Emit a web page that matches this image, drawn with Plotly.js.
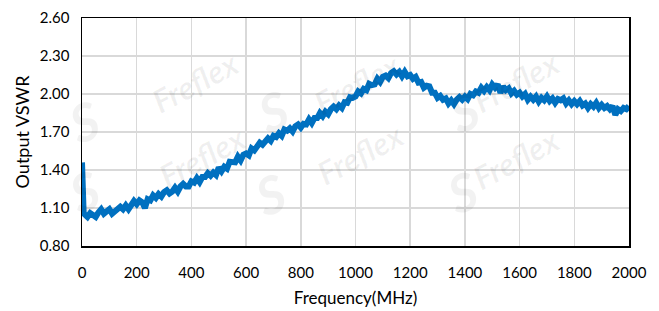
<!DOCTYPE html>
<html>
<head>
<meta charset="utf-8">
<script src="https://cdn.plot.ly/plotly-3.0.1.min.js"></script>
<style>
html,body{margin:0;padding:0;background:#fff;}
#chart{width:659px;height:311px;}
</style>
</head>
<body>
<div id="chart"></div>
<script>
// Frequency (MHz)
const freqMHz = [0, 2, 4, 6,
  10, 20, 30, 40, 50, 60, 70, 80, 90, 100,
  110, 120, 130, 140, 150, 160, 170, 180, 190, 200,
  210, 220, 230, 240, 250, 260, 270, 280, 290, 300,
  310, 320, 330, 340, 350, 360, 370, 380, 390, 400,
  410, 420, 430, 440, 450, 460, 470, 480, 490, 500,
  510, 520, 530, 540, 550, 560, 570, 580, 590, 600,
  610, 620, 630, 640, 650, 660, 670, 680, 690, 700,
  710, 720, 730, 740, 750, 760, 770, 780, 790, 800,
  810, 820, 830, 840, 850, 860, 870, 880, 890, 900,
  910, 920, 930, 940, 950, 960, 970, 980, 990, 1000,
  1010, 1020, 1030, 1040, 1050, 1060, 1070, 1080, 1090, 1100,
  1110, 1120, 1130, 1140, 1150, 1160, 1170, 1180, 1190, 1200,
  1210, 1220, 1230, 1240, 1250, 1260, 1270, 1280, 1290, 1300,
  1310, 1320, 1330, 1340, 1350, 1360, 1370, 1380, 1390, 1400,
  1410, 1420, 1430, 1440, 1450, 1460, 1470, 1480, 1490, 1500,
  1510, 1520, 1530, 1540, 1550, 1560, 1570, 1580, 1590, 1600,
  1610, 1620, 1630, 1640, 1650, 1660, 1670, 1680, 1690, 1700,
  1710, 1720, 1730, 1740, 1750, 1760, 1770, 1780, 1790, 1800,
  1810, 1820, 1830, 1840, 1850, 1860, 1870, 1880, 1890, 1900,
  1910, 1920, 1930, 1940, 1950, 1960, 1970, 1980, 1990, 2000];

// Output VSWR
const vswr = [1.46, 1.21, 1.17, 1.06,
  1.05, 1.03, 1.06, 1.045, 1.03, 1.065, 1.09, 1.055, 1.07, 1.09,
  1.055, 1.07, 1.09, 1.11, 1.09, 1.12, 1.09, 1.13, 1.155, 1.13,
  1.16, 1.145, 1.10, 1.17, 1.16, 1.20, 1.18, 1.21, 1.19, 1.225,
  1.24, 1.215, 1.23, 1.26, 1.23, 1.27, 1.29, 1.27, 1.27, 1.31,
  1.30, 1.335, 1.305, 1.345, 1.345, 1.375, 1.355, 1.38, 1.36, 1.42,
  1.39, 1.425, 1.41, 1.465, 1.46, 1.46, 1.505, 1.475, 1.52, 1.53,
  1.515, 1.57, 1.555, 1.59, 1.615, 1.60, 1.625, 1.65, 1.63, 1.67,
  1.66, 1.69, 1.67, 1.72, 1.71, 1.73, 1.705, 1.745, 1.76, 1.735,
  1.765, 1.76, 1.80, 1.77, 1.81, 1.81, 1.85, 1.825, 1.86, 1.84,
  1.88, 1.90, 1.88, 1.91, 1.89, 1.935, 1.93, 1.975, 1.97, 1.98,
  2.02, 2.005, 2.04, 2.03, 2.08, 2.07, 2.075, 2.12, 2.095, 2.135,
  2.145, 2.125, 2.165, 2.18, 2.155, 2.175, 2.14, 2.175, 2.14, 2.15,
  2.12, 2.135, 2.09, 2.095, 2.05, 2.065, 2.06, 2.01, 2.01, 1.97,
  1.985, 1.955, 1.965, 1.925, 1.95, 1.92, 1.955, 1.975, 1.955, 1.98,
  1.96, 2.00, 1.99, 2.02, 2.01, 2.05, 2.025, 2.055, 2.03, 2.075,
  2.05, 2.075, 2.01, 2.06, 2.03, 2.045, 2.005, 2.025, 1.995, 2.01,
  1.98, 2.00, 1.955, 1.98, 1.955, 1.98, 1.94, 1.97, 1.95, 1.98,
  1.945, 1.965, 1.93, 1.96, 1.95, 1.965, 1.925, 1.95, 1.92, 1.945,
  1.92, 1.945, 1.91, 1.925, 1.89, 1.92, 1.90, 1.93, 1.89, 1.915,
  1.89, 1.905, 1.88, 1.905, 1.835, 1.88, 1.865, 1.89, 1.88, 1.905];

const xTickVals = [0, 200, 400, 600, 800, 1000, 1200, 1400, 1600, 1800, 2000];
const yTickVals = [0.80, 1.10, 1.40, 1.70, 2.00, 2.30, 2.60];
const xTitle = 'Frequency(MHz)';
const yTitle = 'Output VSWR';
const watermarkText = 'Freflex';

const FONT = 'Lato, "Open Sans", sans-serif';

const wmWords = [[143, 40], [357, 42], [568, 40], [150, 198], [360, 195], [568, 200]];
const wmLogos = [[58, 85], [273, 75], [490, 75], [58, 227], [270, 230], [488, 228]];
const annotations = [];
wmWords.forEach(p => annotations.push({
  xref: 'paper', yref: 'paper',
  x: (p[0] - 82) / 547, y: (246 - p[1]) / 228,
  text: '<b><i>' + watermarkText + '</i></b>', showarrow: false, textangle: -28,
  font: {family: FONT, size: 32, color: 'rgba(0,0,0,0.06)'}
}));
wmLogos.forEach(p => annotations.push({
  xref: 'paper', yref: 'paper',
  x: (p[0] - 82) / 547, y: (246 - p[1]) / 228,
  text: '<b><i>S</i></b>', showarrow: false, textangle: -20,
  font: {family: FONT, size: 52, color: 'rgba(0,0,0,0.05)'}
}));

const trace = {
  x: freqMHz, y: vswr, type: 'scatter', mode: 'lines',
  line: {color: '#0070C0', width: 6},
  hoverinfo: 'skip'
};

const layout = {
  width: 659, height: 311,
  margin: {l: 82, r: 30, t: 18, b: 65},
  paper_bgcolor: '#ffffff', plot_bgcolor: '#ffffff',
  showlegend: false,
  font: {family: FONT, size: 15, color: '#000'},
  xaxis: {
    range: [0, 2000], tickvals: xTickVals, ticktext: xTickVals.map(String),
    showgrid: true, gridcolor: '#d9d9d9', gridwidth: 1.5,
    showline: true, linecolor: '#000', linewidth: 1.5, mirror: true,
    zeroline: false, ticks: '', ticklabelstandoff: 12,
    tickfont: {family: FONT, size: 15, color: '#000'},
    title: {text: xTitle, font: {family: FONT, size: 17, color: '#000'}, standoff: 12}
  },
  yaxis: {
    range: [0.8, 2.6], tickvals: yTickVals, ticktext: yTickVals.map(v => v.toFixed(2)),
    showgrid: true, gridcolor: '#d9d9d9', gridwidth: 1.5,
    showline: true, linecolor: '#000', linewidth: 1.5, mirror: true,
    zeroline: false, ticks: '', ticklabelstandoff: 8,
    tickfont: {family: FONT, size: 15, color: '#000'},
    title: {text: yTitle, font: {family: FONT, size: 18, color: '#000'}, standoff: 5}
  },
  annotations: annotations
};

Plotly.newPlot('chart', [trace], layout, {displayModeBar: false, staticPlot: true});
</script>
</body>
</html>
